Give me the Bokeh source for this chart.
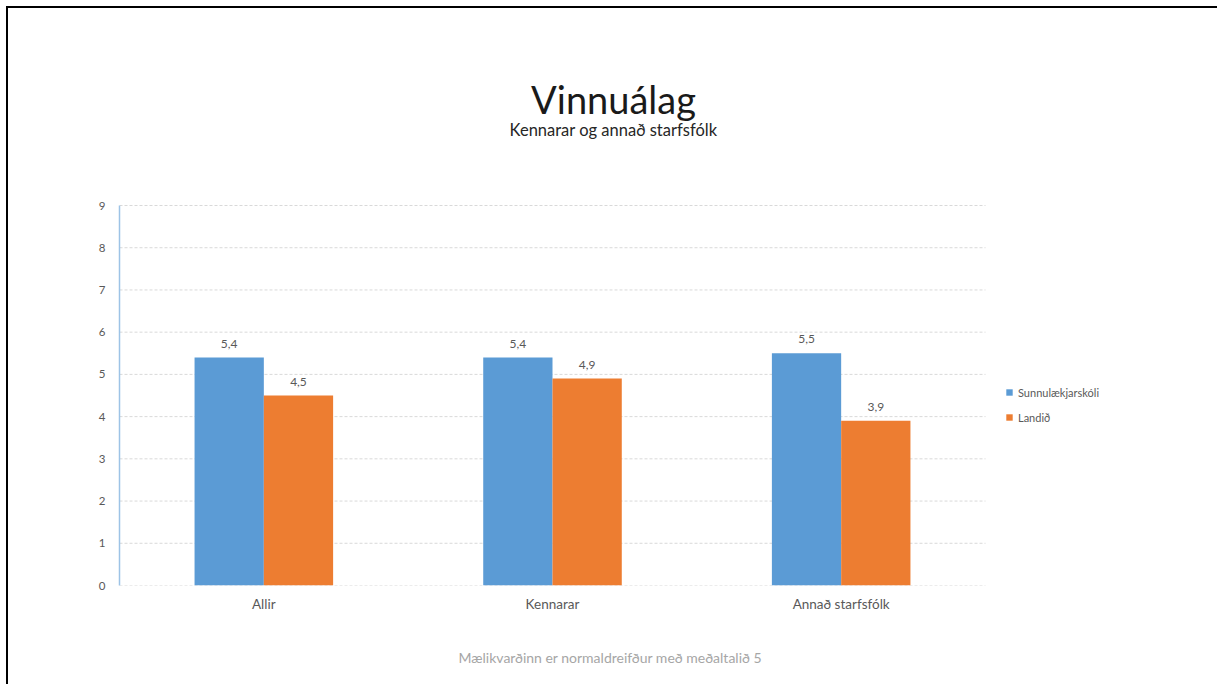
from bokeh.plotting import figure
from bokeh.models import (ColumnDataSource, Legend, LegendItem, Range1d, Title,
                          FixedTicker, Label)
from bokeh.core.properties import value
from bokeh.embed import file_html
from bokeh.resources import INLINE

categories = ["Allir", "Kennarar", "Annað starfsfólk"]
series_names = ["Sunnulækjarskóli", "Landið"]
sunnulaekjarskoli = [5.4, 5.4, 5.5]
landid = [4.5, 4.9, 3.9]
y_ticks = [0, 1, 2, 3, 4, 5, 6, 7, 8, 9]

title_text = "Vinnuálag"
subtitle_text = "Kennarar og annað starfsfólk"
footer_text = "Mælikvarðinn er normaldreifður með meðaltalið 5"

FONT = "Lato"
W, H = 1217, 684
LEFT, TOP, BOTTOM, RIGHT = 119, 60, 99, 20
CAT_PX = 866 / 3            # pixel width of one category slot
PX_PER_UNIT = 380 / 9       # pixel height of one value unit
frame_w = W - LEFT - RIGHT
frame_h = H - TOP - BOTTOM
x_end = frame_w / CAT_PX
y_end = frame_h / PX_PER_UNIT

def fmt(v):
    return f"{v:.1f}".replace(".", ",")

n = len(categories)
centers = [i + 0.5 for i in range(n)]
bw = 0.24

src = ColumnDataSource(dict(
    x1=[c - bw / 2 for c in centers],
    x2=[c + bw / 2 for c in centers],
    s1=sunnulaekjarskoli,
    s2=landid,
    l1=[fmt(v) for v in sunnulaekjarskoli],
    l2=[fmt(v) for v in landid],
))
grid_src = ColumnDataSource(dict(
    x0=[0] * len(y_ticks), x1=[n] * len(y_ticks), y=y_ticks,
))

p = figure(
    x_range=Range1d(0, x_end),
    y_range=Range1d(0, y_end),
    width=W, height=H,
    output_backend="svg", toolbar_location=None,
    min_border_left=LEFT, min_border_right=RIGHT,
    min_border_top=TOP, min_border_bottom=BOTTOM,
    styles={"box-shadow": "inset 6px 6px 0 0 #ffffff, inset 8px 8px 0 0 #000000",
            "background": "#ffffff"},
)
p.outline_line_color = None
p.background_fill_color = None
p.border_fill_color = None
p.xgrid.grid_line_color = None
p.ygrid.grid_line_color = None

# horizontal gridlines over the category span
p.segment(x0="x0", x1="x1", y0="y", y1="y", source=grid_src,
          line_color="#d9d9d9", line_width=1, line_dash="3 2")

r1 = p.vbar(x="x1", top="s1", width=bw, source=src,
            fill_color="#5b9bd5", line_color=None)
r2 = p.vbar(x="x2", top="s2", width=bw, source=src,
            fill_color="#ed7d31", line_color=None)

for xcol, col, lab in (("x1", "s1", "l1"), ("x2", "s2", "l2")):
    p.text(x=xcol, y=col, text=lab, source=src,
           text_align="center", text_baseline="bottom", y_offset=-10,
           text_font=value(FONT), text_font_size="12px", text_color="#595959")

# axes
p.yaxis.ticker = y_ticks
p.yaxis.bounds = (y_ticks[0], y_ticks[-1])
p.yaxis.axis_line_color = "#9dc3e6"
p.yaxis.axis_line_width = 1.5
p.yaxis.major_tick_line_color = None
p.yaxis.major_tick_out = 0
p.yaxis.major_tick_in = 0
p.yaxis.minor_tick_line_color = None
p.yaxis.major_label_standoff = 14
p.yaxis.major_label_text_font = FONT
p.yaxis.major_label_text_font_size = "11.5px"
p.yaxis.major_label_text_color = "#595959"

p.xaxis.ticker = FixedTicker(ticks=centers)
p.xaxis.major_label_overrides = {c: name for c, name in zip(centers, categories)}
p.xaxis.axis_line_color = None
p.xaxis.major_tick_line_color = None
p.xaxis.major_tick_out = 0
p.xaxis.major_tick_in = 0
p.xaxis.minor_tick_line_color = None
p.xaxis.major_label_standoff = 10
p.xaxis.major_label_text_font = FONT
p.xaxis.major_label_text_font_size = "13.5px"
p.xaxis.major_label_text_color = "#595959"

legend = Legend(items=[LegendItem(label=series_names[0], renderers=[r1]),
                       LegendItem(label=series_names[1], renderers=[r2])],
                location=(886, 161), orientation="vertical",
                glyph_width=8, glyph_height=8, label_standoff=5,
                label_text_font=FONT, label_text_font_size="11px",
                label_text_color="#595959", label_height=14, spacing=11,
                padding=0, margin=0, border_line_color=None, background_fill_alpha=0)
p.add_layout(legend, "center")

# title and subtitle (screen units: x from frame left, y from frame bottom)
frame_bottom_px = H - BOTTOM
p.add_layout(Label(x=494, y=frame_bottom_px - 98, x_units="screen", y_units="screen",
                   text=title_text, text_align="center", text_baseline="alphabetic",
                   text_font=FONT, text_font_size="38px", text_color="#1a1a1a"))
p.add_layout(Label(x=494, y=frame_bottom_px - 129, x_units="screen", y_units="screen",
                   text=subtitle_text, text_align="center", text_baseline="alphabetic",
                   text_font=FONT, text_font_size="16.5px", text_color="#262626"))

# below: x axis, spacer, footer
p.add_layout(Title(text=" ", text_font_size="1px", standoff=29), "below")
p.add_layout(Title(text=footer_text, align="left", offset=339, standoff=0,
                   text_font=FONT, text_font_size="14px", text_font_style="normal",
                   text_color="#a6a6a6"), "below")

open("out.html", "w").write(file_html(p, INLINE))
